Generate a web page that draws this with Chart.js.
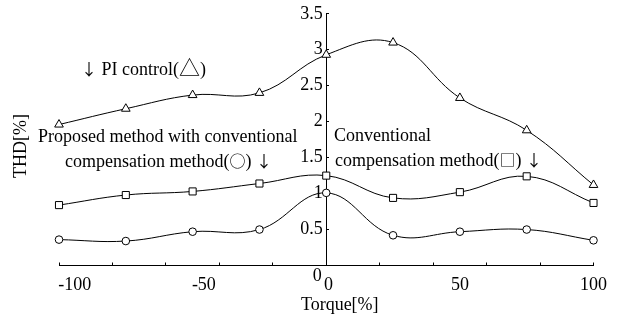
<!DOCTYPE html>
<html lang="en">
<head>
<meta charset="UTF-8">
<title>THD vs Torque</title>
<script src="https://cdn.jsdelivr.net/npm/chart.js"></script>
<style>
  html, body { margin: 0; padding: 0; background: white; }
  .wrap { width: 619px; height: 320px; }
</style>
</head>
<body>
<div class="wrap"><canvas id="thdChart"></canvas></div>
<script>
// values
const torque = [-100, -75, -50, -25, 0, 25, 50, 75, 100];
const piControl = [1.96, 2.18, 2.37, 2.40, 2.93, 3.10, 2.33, 1.88, 1.12];
const conventional = [0.84, 0.98, 1.03, 1.14, 1.25, 0.94, 1.02, 1.24, 0.87];
const proposed = [0.36, 0.34, 0.47, 0.50, 1.01, 0.42, 0.47, 0.50, 0.35];

const xTicks = [-100, -80, -60, -50, -40, -20, 0, 20, 40, 50, 60, 80, 100];
const xLabels = [-100, -50, 0, 50, 100];
const yTicks = [0, 0.5, 1, 1.5, 2, 2.5, 3, 3.5];

const FONT = "'Liberation Serif', 'Times New Roman', serif";
const SYM = "'Noto Sans CJK JP', 'DejaVu Sans', sans-serif";

// annotation text, drawn piece by piece so the symbols can use another font
const serif = '18px ' + FONT;
const notes = [
  { x: 81, y: 75, parts: [['\u2193', '16px ' + SYM], [' PI control(', serif], ['\u25B3', '21px ' + SYM], [')', serif]] },
  { x: 38, y: 142, parts: [['Proposed method with conventional', serif]] },
  { x: 65, y: 167, parts: [['compensation method(', serif], ['\u25CB', '16px ' + SYM], [') ', serif], ['\u2193', '16px ' + SYM]] },
  { x: 334, y: 141, parts: [['Conventional', serif]] },
  { x: 335, y: 166, parts: [['compensation method(', serif], ['\u25A1', '16px ' + SYM], [') ', serif], ['\u2193', '16px ' + SYM]] }
];

const textPlugin = {
  id: 'textPlugin',
  afterDraw(chart) {
    const ctx = chart.ctx;
    const x = chart.scales.x, y = chart.scales.y;
    ctx.save();
    ctx.fillStyle = '#000';
    ctx.textBaseline = 'alphabetic';
    ctx.textAlign = 'left';
    notes.forEach(n => {
      let px = n.x;
      n.parts.forEach(([t, f]) => {
        ctx.font = f;
        ctx.fillText(t, px, n.y);
        px += ctx.measureText(t).width;
      });
    });
    ctx.font = serif;
    // y-axis zero, sits under the x axis
    ctx.textAlign = 'center';
    ctx.textBaseline = 'middle';
    ctx.fillText('0', x.getPixelForValue(0) - 9, y.getPixelForValue(0) + 11);
    // y title at the far left
    ctx.translate(21, 146);
    ctx.rotate(-Math.PI / 2);
    ctx.fillText('THD[%]', 0, 0);
    ctx.restore();
  }
};

function series(vals) {
  return torque.map((t, i) => ({ x: t, y: vals[i] }));
}

function line(label, vals, shape, r) {
  return {
    label: label,
    data: series(vals),
    borderColor: '#000',
    borderWidth: 1,
    backgroundColor: '#fff',
    pointStyle: shape,
    pointRadius: r,
    pointBorderWidth: 1,
    pointBorderColor: '#000',
    pointBackgroundColor: '#fff',
    tension: 0.4,
    clip: false
  };
}

new Chart(document.getElementById('thdChart'), {
  type: 'line',
  data: {
    datasets: [
      line('PI control', piControl, 'triangle', 5),
      line('Conventional compensation method', conventional, 'rect', 5),
      line('Proposed method', proposed, 'circle', 3.8)
    ]
  },
  options: {
    responsive: true,
    maintainAspectRatio: false,
    animation: false,
    layout: { padding: { left: 59, right: 24, top: 12, bottom: 4 } },
    plugins: {
      legend: { display: false },
      tooltip: { enabled: false }
    },
    scales: {
      x: {
        type: 'linear',
        min: -100,
        max: 100,
        afterBuildTicks: s => { s.ticks = xTicks.map(v => ({ value: v })); },
        afterFit: s => { s.height = 50.5; },
        ticks: {
          color: '#000',
          font: { family: FONT, size: 18 },
          padding: 12,
          maxRotation: 0,
          autoSkip: false,
          callback: v => {
            if (!xLabels.includes(v)) return '';
            if (v === -100) return '       ' + v;
            if (v === -50) return '     ' + v;
            if (v === 0) return ' 0';
            return String(v);
          }
        },
        grid: {
          drawOnChartArea: false,
          tickLength: -3,
          tickColor: c => (c.tick && c.tick.value % 20 === 0) ? '#000' : 'rgba(0,0,0,0)'
        },
        border: { display: true, color: '#000', width: 1 },
        title: {
          display: true,
          text: '      Torque[%]',
          color: '#000',
          font: { family: FONT, size: 18 },
          padding: { top: 0, bottom: 0 }
        }
      },
      y: {
        type: 'linear',
        position: { x: 0 },
        min: 0,
        max: 3.5,
        afterBuildTicks: s => { s.ticks = yTicks.map(v => ({ value: v })); },
        ticks: {
          color: '#000',
          font: { family: FONT, size: 18 },
          callback: v => v === 0 ? '' : String(v) + '\u2009'
        },
        grid: {
          drawOnChartArea: false,
          tickLength: -3,
          tickColor: '#000'
        },
        border: { display: true, color: '#000', width: 1 }
      }
    }
  },
  plugins: [textPlugin]
});
</script>
</body>
</html>
